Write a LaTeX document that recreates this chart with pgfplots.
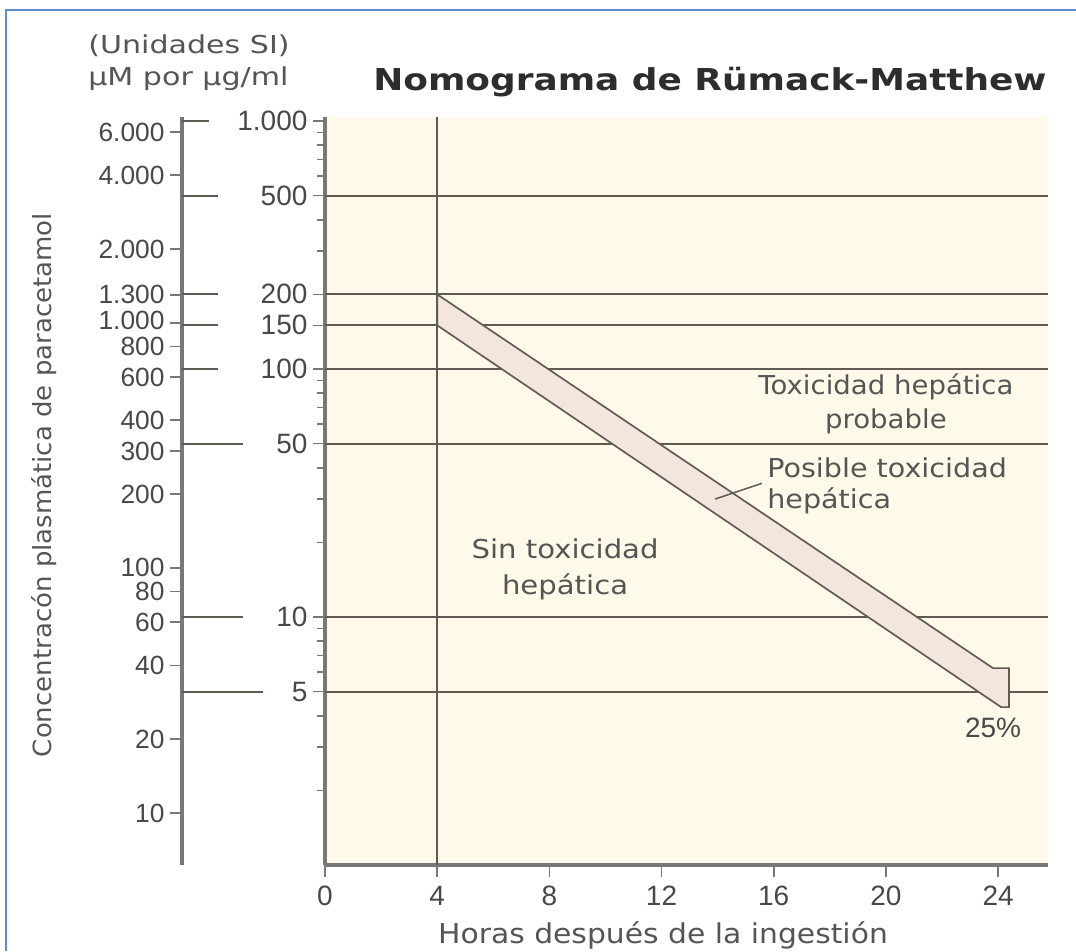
\documentclass[border=0pt]{standalone}
\usepackage{pgfplots}
\pgfplotsset{compat=1.18}
\usepackage{graphicx}
\usepackage{fontspec}
\setmainfont{Liberation Sans}
\newfontfamily\dv{DejaVu Sans}
\definecolor{cream}{RGB}{254,249,232}
\definecolor{bandfill}{RGB}{243,230,223}
\definecolor{linegray}{RGB}{95,90,82}
\definecolor{axisgray}{RGB}{120,120,120}
\definecolor{labelgray}{RGB}{72,72,72}
\definecolor{txtgray}{RGB}{85,85,85}
\definecolor{frameblue}{RGB}{95,140,212}
\begin{document}
\begin{tikzpicture}
% frame
\draw[frameblue, line width=1.2pt] (3.6pt,0pt) -- (3.6pt,564.6pt) -- (645.6pt,564.6pt);

% left scale (micromolar)
\begin{axis}[
  at={(109.2pt,51.6pt)}, anchor=south west,
  scale only axis, width=85.8pt, height=448.8pt,
  xmin=0, xmax=1, ymode=log, ymin=6.14, ymax=6908,
  axis x line=none, axis y line=left,
  axis line style={-, draw=axisgray, line width=2.2pt},
  tick align=outside, major tick length=7pt,
  every tick/.style={draw=axisgray, line width=1pt},
  ytick={10,20,40,60,80,100,200,300,400,600,800,1000,1300,2000,4000,6000},
  yticklabels={10,20,40,60,80,100,200,300,400,600,800,\raisebox{3pt}{1.000},1.300,2.000,4.000,6.000},
  ticklabel style={font=\fontsize{15.8}{17}\selectfont, text=labelgray, inner ysep=0pt},
  clip=false,
]
\end{axis}

% main nomogram
\begin{axis}[
  at={(195pt,51.6pt)}, anchor=south west,
  scale only axis, width=433.8pt, height=448.8pt,
  xmin=0, xmax=25.78, ymode=log, ymin=1, ymax=1038,
  axis x line=bottom, axis y line=left,
  axis line style={-, draw=axisgray, line width=2pt},
  axis background/.style={fill=cream},
  tick align=outside, major tick length=7pt, minor tick length=5pt,
  every tick/.style={draw=axisgray, line width=1pt},
  xtick={0,4,8,12,16,20,24}, xticklabels={0,4,8,12,16,20,24},
  ytick={5,10,50,100,150,200,500,1000},
  yticklabels={5,10,50,100,150,200,500,1.000},
  minor ytick={2,3,4,6,7,8,9,20,30,40,60,70,80,90,300,400,600,700,800,900},
  ticklabel style={font=\fontsize{16.8}{18}\selectfont, text=labelgray},
  xticklabel style={yshift=-2.2pt},
  clip=false,
]
% connectors from the micromolar scale
\addplot[linegray, line width=1.2pt] coordinates {(-5.1,1000) (-4.14,1000)};
\addplot[linegray, line width=1.2pt] coordinates {(-5.1,500) (-3.82,500)};
\addplot[linegray, line width=1.2pt] coordinates {(-5.1,200) (-3.82,200)};
\addplot[linegray, line width=1.2pt] coordinates {(-5.1,150) (-3.82,150)};
\addplot[linegray, line width=1.2pt] coordinates {(-5.1,100) (-3.82,100)};
\addplot[linegray, line width=1.2pt] coordinates {(-5.1,50) (-2.92,50)};
\addplot[linegray, line width=1.2pt] coordinates {(-5.1,10) (-2.92,10)};
\addplot[linegray, line width=1.2pt] coordinates {(-5.1,5) (-2.21,5)};
% reference lines
\addplot[linegray, line width=1.2pt] coordinates {(0,500) (25.78,500)};
\addplot[linegray, line width=1.2pt] coordinates {(0,200) (25.78,200)};
\addplot[linegray, line width=1.2pt] coordinates {(0,150) (25.78,150)};
\addplot[linegray, line width=1.2pt] coordinates {(0,100) (25.78,100)};
\addplot[linegray, line width=1.2pt] coordinates {(0,50) (25.78,50)};
\addplot[linegray, line width=1.2pt] coordinates {(0,10) (25.78,10)};
\addplot[linegray, line width=1.2pt] coordinates {(0,5) (25.78,5)};
\addplot[linegray, line width=1.2pt] coordinates {(4,1) (4,1038)};
% treatment band
\addplot[draw=linegray, line width=1pt, fill=bandfill] coordinates
  {(4,200) (23.82,6.22) (24.39,6.22) (24.39,4.33) (24.11,4.33) (4,150)} -- cycle;
% leader line
\addplot[linegray, line width=0.9pt] coordinates {(13.91,29.9) (15.58,34.6)};

\node[font=\dv\fontsize{15.6}{21.6}\selectfont, text=txtgray, align=center]
  at (axis cs:8.56,15.6) {\scalebox{1.12}[1]{Sin toxicidad}\\\scalebox{1.12}[1]{hepática}};
\node[font=\dv\fontsize{15.6}{20.4}\selectfont, text=txtgray, align=center]
  at (axis cs:20.0,72.1) {\scalebox{1.06}[1]{Toxicidad hepática}\\\scalebox{1.06}[1]{probable}};
\node[font=\dv\fontsize{15.6}{18.6}\selectfont, text=txtgray, align=left, anchor=west, inner sep=0pt]
  at (axis cs:15.76,33.8) {\scalebox{1.1}[1]{Posible toxicidad}\\\scalebox{1.1}[1]{hepática}};
\node[font=\fontsize{16.8}{18}\selectfont, text=labelgray]
  at (axis cs:23.82,3.56) {25\%};
\end{axis}

% texts outside the axes
\node[font=\dv\fontsize{18.1}{20}\selectfont\bfseries, text={rgb,255:red,45;green,45;blue,45}, anchor=base, inner sep=0pt]
  at (426pt,516pt) {\scalebox{1.19}[1]{Nomograma de Rümack-Matthew}};
\node[font=\dv\fontsize{14.8}{18}\selectfont, text=txtgray, anchor=base west, inner sep=0pt]
  at (52.8pt,538.2pt) {\scalebox{1.22}[1]{(Unidades SI)}};
\node[font=\dv\fontsize{14.8}{18}\selectfont, text=txtgray, anchor=base west, inner sep=0pt]
  at (52.8pt,519pt) {\scalebox{1.22}[1]{µM por µg/ml}};
\node[font=\dv\fontsize{15}{18}\selectfont, text=txtgray, rotate=90]
  at (26.4pt,279.6pt) {\scalebox{1.04}[1]{Concentracón plasmática de paracetamol}};
\node[font=\dv\fontsize{16.4}{18}\selectfont, text=txtgray, anchor=base, inner sep=0pt]
  at (397.8pt,4.8pt) {\scalebox{1.09}[1]{Horas después de la ingestión}};

\pgfresetboundingbox
\useasboundingbox (0pt,0pt) rectangle (645.6pt,570.6pt);
\end{tikzpicture}
\end{document}
